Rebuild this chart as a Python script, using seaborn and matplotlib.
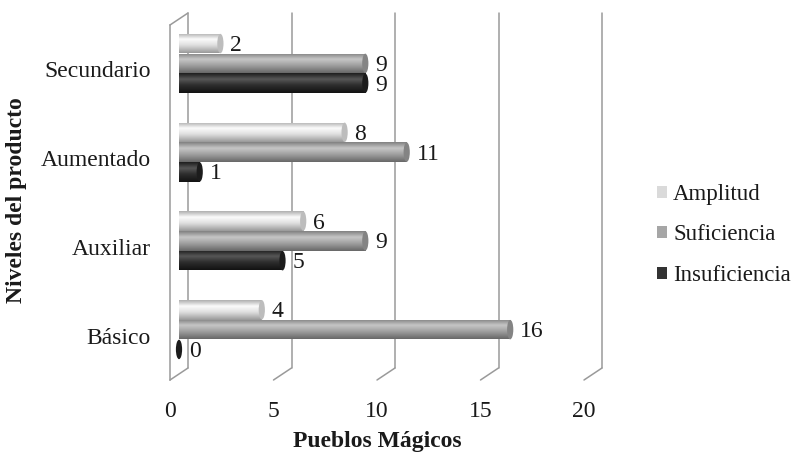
import numpy as np
import pandas as pd
import seaborn as sns
import matplotlib.pyplot as plt
import matplotlib.transforms as mtransforms
from matplotlib.patches import Ellipse, Patch, ConnectionPatch

# data
niveles = ["Secundario", "Aumentado", "Auxiliar", "Básico"]
series = ["Amplitud", "Suficiencia", "Insuficiencia"]
amplitud = [2, 8, 6, 4]
suficiencia = [9, 11, 9, 16]
insuficiencia = [9, 1, 5, 0]
xticks = [0, 5, 10, 15, 20]

df = pd.DataFrame({
    "nivel": niveles * 3,
    "serie": [s for s in series for _ in niveles],
    "valor": amplitud + suficiencia + insuficiencia,
})

colores = {"Amplitud": "#dadada", "Suficiencia": "#a6a6a6", "Insuficiencia": "#333333"}
# vertical shading of the cylinders (top edge, highlight, body, bottom edge)
sombras = {
    "Amplitud": ["#b0b0b0", "#fbfbfb", "#e0e0e0", "#9a9a9a"],
    "Suficiencia": ["#828282", "#c6c6c6", "#a2a2a2", "#686868"],
    "Insuficiencia": ["#1e1e1e", "#575757", "#2e2e2e", "#121212"],
}
tapas = {"Amplitud": "#bdbdbd", "Suficiencia": "#848484", "Insuficiencia": "#1c1c1c"}

sns.set_style("white")
plt.rcParams["font.family"] = ["Liberation Serif", "DejaVu Serif"]
gris = "#9a9a9a"
txt = "#1a1a1a"

fig = plt.figure(figsize=(7.96, 4.54), dpi=100)
ax = fig.add_axes([170 / 796, 74 / 454, 414 / 796, 355 / 454])

sns.barplot(data=df, x="valor", y="nivel", hue="serie", order=niveles,
            hue_order=series, palette=colores, width=0.67, gap=0.02,
            legend=False, ax=ax, zorder=3)

# 3d-like offsets (pixels)
off_bar = mtransforms.ScaledTranslation(9 / 100, 6 / 100, fig.dpi_scale_trans)
off_back = mtransforms.ScaledTranslation(18 / 100, 12 / 100, fig.dpi_scale_trans)
off_lab = mtransforms.ScaledTranslation(19 / 100, 4 / 100, fig.dpi_scale_trans)
t_bar = ax.transData + off_bar


def perfil(cols, n=40):
    rgb = np.array([plt.matplotlib.colors.to_rgb(c) for c in cols])
    pos = np.array([0.0, 0.3, 0.6, 1.0])
    t = np.linspace(0, 1, n)
    img = np.stack([np.interp(t, pos, rgb[:, k]) for k in range(3)], axis=1)
    return img[:, None, :]


for serie, cont in zip(series, ax.containers):
    for p in cont:
        p.set_transform(t_bar)
        p.set_edgecolor("none")
        x0, y0, w, h = p.get_x(), p.get_y(), p.get_width(), p.get_height()
        if w > 0:
            im = ax.imshow(perfil(sombras[serie]), extent=[x0, x0 + w, y0 + h, y0],
                           origin="upper", aspect="auto", transform=t_bar,
                           zorder=3.5, interpolation="bilinear")
            im.set_clip_path(p)
        cap = Ellipse((x0 + w, y0 + h / 2), width=0.3, height=h,
                      facecolor=tapas[serie], edgecolor="none",
                      transform=t_bar, zorder=4)
        ax.add_patch(cap)
        ax.text(x0 + w, y0 + h / 2, f"{w:.0f}", transform=ax.transData + off_lab,
                ha="left", va="center", fontsize=17, color=txt, zorder=5)

ax.set_xlim(0, 20)
ax.set_ylim(3.5, -0.5)

# back wall gridlines and floor slants
for v in xticks:
    ax.plot([v, v], [3.5, -0.5], color=gris, lw=1.1,
            transform=ax.transData + off_back, zorder=1, clip_on=False)
    ax.add_artist(ConnectionPatch(xyA=(v, 3.5), coordsA=ax.transData,
                                  xyB=(v, 3.5), coordsB=ax.transData + off_back,
                                  color=gris, lw=1.1, zorder=1))
ax.add_artist(ConnectionPatch(xyA=(0, -0.5), coordsA=ax.transData,
                              xyB=(0, -0.5), coordsB=ax.transData + off_back,
                              color=gris, lw=1.1, zorder=1))

for s in ["top", "right", "bottom"]:
    ax.spines[s].set_visible(False)
ax.spines["left"].set_color(gris)
ax.spines["left"].set_linewidth(1.1)

ax.set_xticks(xticks)
ax.tick_params(axis="x", length=6, width=1.1, color=gris, pad=9,
               labelsize=17, labelcolor=txt)
ax.set_yticks(range(len(niveles)))
ax.set_yticklabels(niveles)
ax.set_yticks(np.arange(-0.5, len(niveles), 1.0), minor=True)
ax.tick_params(axis="y", which="major", length=0, pad=14, labelsize=17, labelcolor=txt)
ax.tick_params(axis="y", which="minor", length=6, width=1.1, color=gris)

ax.set_xlabel("Pueblos Mágicos", fontsize=17, fontweight="bold", color=txt)
ax.set_ylabel("")
ax.xaxis.set_label_coords(0.5, -0.145)
fig.text(17 / 796, 1 - 200 / 454, "Niveles del producto", rotation=90, ha="center",
         va="center", fontsize=17, fontweight="bold", color=txt)

handles = [Patch(facecolor=colores[s], edgecolor="none") for s in series]
fig.legend(handles, series, loc="center left", bbox_to_anchor=(657 / 796, 1 - 235 / 454),
           frameon=False, fontsize=16.5, handlelength=0.45, handleheight=0.45,
           handletextpad=0.25, labelspacing=0.85, borderpad=0, borderaxespad=0,
           labelcolor=txt)

fig.savefig("out.png", dpi=100)
